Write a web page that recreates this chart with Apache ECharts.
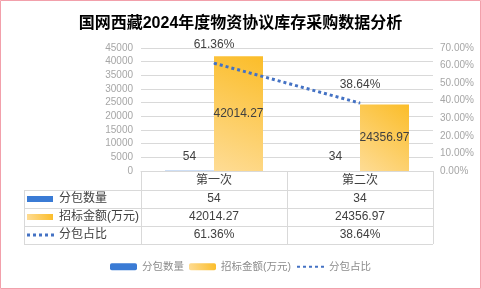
<!DOCTYPE html>
<html>
<head>
<meta charset="utf-8">
<script src="https://cdn.jsdelivr.net/npm/echarts@6/dist/echarts.min.js"></script>
<style>
  html, body { margin: 0; padding: 0; background: #fff; }
  #chart { width: 481px; height: 289px; }
</style>
</head>
<body>
<div id="chart"></div>
<script>
// data
var title = '国网西藏2024年度物资协议库存采购数据分析'
var categories = ['第一次', '第二次']
var seriesNames = ['分包数量', '招标金额(万元)', '分包占比']
var packCount = [54, 34]
var bidAmount = [42014.27, 24356.97]
var packShare = [0.6136, 0.3864]

var FONT = "'Liberation Sans', 'Noto Sans CJK SC', sans-serif"
var BLUE = '#3a7bd5'
var LINE_BLUE = '#4472c4'
var GRID_GRAY = '#d9d9d9'
var TEXT = '#404040'

function pct(v) {
    return (v * 100).toFixed(2) + '%'
}
function yellowGrad(x0, y0, x1, y1) {
    return new echarts.graphic.LinearGradient(x0, y0, x1, y1, [
        { offset: 0, color: '#fedc95' },
        { offset: 1, color: '#fbbd29' }
    ])
}

var chart = echarts.init(document.getElementById('chart'))

// table rows next to the plot (label column), rows at these centres
var rowY = [199, 217, 235]
var graphics = [
    { type: 'rect', shape: { x: 0.5, y: 0.5, width: 480, height: 288 }, style: { fill: 'none', stroke: '#f2a0ab', lineWidth: 1 }, silent: true }
]
;[190, 208, 226, 244].forEach(function (y) {
    graphics.push({ type: 'line', shape: { x1: 24, y1: y + 0.5, x2: 433, y2: y + 0.5 }, style: { stroke: GRID_GRAY, lineWidth: 1 } })
})
graphics.push({ type: 'line', shape: { x1: 24.5, y1: 190, x2: 24.5, y2: 244 }, style: { stroke: GRID_GRAY, lineWidth: 1 } })
graphics.push({ type: 'rect', shape: { x: 27, y: rowY[0] - 3, width: 26, height: 6 }, style: { fill: BLUE } })
graphics.push({ type: 'rect', shape: { x: 27, y: rowY[1] - 3, width: 26, height: 6 }, style: { fill: yellowGrad(0, 1, 1, 0) } })
graphics.push({ type: 'line', shape: { x1: 27, y1: rowY[2], x2: 56, y2: rowY[2] }, style: { stroke: LINE_BLUE, lineWidth: 3, lineDash: [3, 3] } })
seriesNames.forEach(function (name, i) {
    graphics.push({
        type: 'text', x: 59, y: rowY[i],
        style: { text: name, fill: TEXT, font: '12px ' + FONT, verticalAlign: 'middle', align: 'left' }
    })
})

var option = {
    textStyle: { fontFamily: FONT },
    title: {
        text: title,
        left: 'center',
        top: 11,
        textStyle: { fontSize: 16, fontWeight: 'bold', color: '#000', fontFamily: FONT }
    },
    legend: {
        data: [
            { name: seriesNames[0] },
            { name: seriesNames[1] },
            { name: seriesNames[2], itemStyle: { opacity: 0 } }
        ],
        bottom: 12,
        left: 'center',
        itemWidth: 27,
        itemHeight: 7,
        itemGap: 5,
        textStyle: { color: '#8c8c8c', fontSize: 10.5 }
    },
    grid: { left: 141, right: 48, top: 48, bottom: 118 },
    xAxis: {
        type: 'category',
        data: categories,
        axisLine: { show: true, lineStyle: { color: GRID_GRAY } },
        axisTick: { show: true, length: 73, lineStyle: { color: GRID_GRAY } },
        axisLabel: {
            margin: 1,
            lineHeight: 18,
            fontSize: 12,
            color: TEXT,
            formatter: function (value, index) {
                return [value, packCount[index], bidAmount[index].toFixed(2), pct(packShare[index])].join('\n')
            }
        }
    },
    yAxis: [
        {
            type: 'value',
            min: 0,
            max: 45000,
            interval: 5000,
            axisLine: { show: false },
            axisTick: { show: false },
            axisLabel: { color: '#a6a6a6', fontSize: 10, margin: 8, formatter: function (v) { return String(v) } },
            splitLine: { lineStyle: { color: GRID_GRAY } }
        },
        {
            type: 'value',
            min: 0,
            max: 0.7,
            interval: 0.1,
            axisLine: { show: false },
            axisTick: { show: false },
            splitLine: { show: false },
            axisLabel: { color: '#a6a6a6', fontSize: 10, margin: 7, formatter: pct }
        }
    ],
    series: [
        {
            name: seriesNames[0],
            type: 'bar',
            data: packCount,
            barWidth: 49,
            barGap: '0%',
            itemStyle: { color: BLUE },
            label: { show: true, position: 'top', distance: 8, color: TEXT, fontSize: 12 }
        },
        {
            name: seriesNames[1],
            type: 'bar',
            data: bidAmount,
            barWidth: 49,
            itemStyle: { color: yellowGrad(0, 1, 1, 0) },
            label: { show: true, position: 'inside', color: TEXT, fontSize: 12 }
        },
        {
            name: seriesNames[2],
            type: 'line',
            yAxisIndex: 1,
            data: packShare,
            symbol: 'circle',
            symbolSize: 1,
            itemStyle: { color: LINE_BLUE },
            lineStyle: { color: LINE_BLUE, width: 3, type: [3, 3] },
            label: { show: true, position: 'top', distance: 12, color: TEXT, fontSize: 12, formatter: function (p) { return pct(p.value) } },
            z: 5
        }
    ],
    graphic: graphics
}

chart.setOption(option)
</script>
</body>
</html>
